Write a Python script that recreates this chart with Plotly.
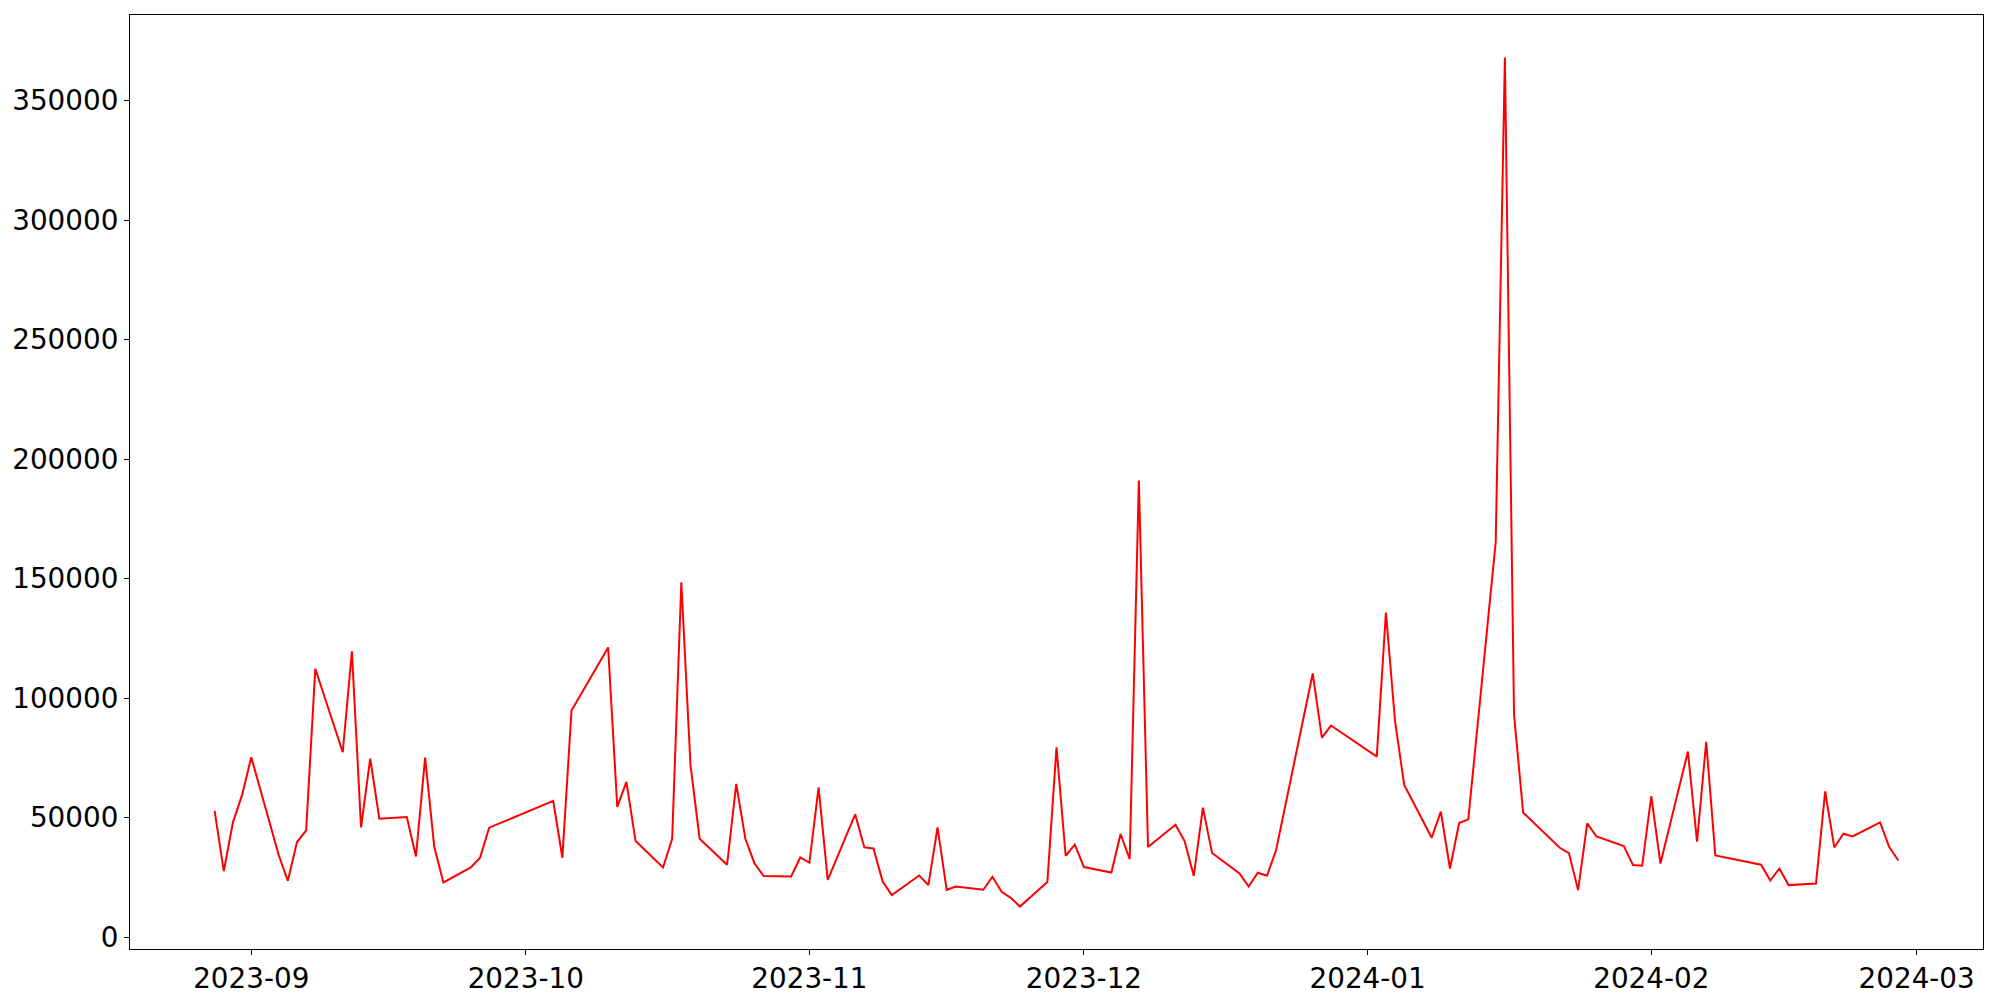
import plotly.graph_objects as go
import pandas as pd

dates = [
    "2023-08-28", "2023-08-29", "2023-08-30", "2023-08-31", "2023-09-01",
    "2023-09-04", "2023-09-05", "2023-09-06", "2023-09-07", "2023-09-08",
    "2023-09-11", "2023-09-12", "2023-09-13", "2023-09-14", "2023-09-15",
    "2023-09-18", "2023-09-19", "2023-09-20", "2023-09-21", "2023-09-22",
    "2023-09-25", "2023-09-26", "2023-09-27",
    "2023-10-04", "2023-10-05", "2023-10-06",
    "2023-10-10", "2023-10-11", "2023-10-12", "2023-10-13",
    "2023-10-16", "2023-10-17", "2023-10-18", "2023-10-19", "2023-10-20",
    "2023-10-23", "2023-10-24", "2023-10-25", "2023-10-26", "2023-10-27",
    "2023-10-30", "2023-10-31", "2023-11-01", "2023-11-02", "2023-11-03",
    "2023-11-06", "2023-11-07", "2023-11-08", "2023-11-09", "2023-11-10",
    "2023-11-13", "2023-11-14", "2023-11-15", "2023-11-16", "2023-11-17",
    "2023-11-20", "2023-11-21", "2023-11-22", "2023-11-23", "2023-11-24",
    "2023-11-27", "2023-11-28", "2023-11-29", "2023-11-30", "2023-12-01",
    "2023-12-04", "2023-12-05", "2023-12-06", "2023-12-07", "2023-12-08",
    "2023-12-11", "2023-12-12", "2023-12-13", "2023-12-14", "2023-12-15",
    "2023-12-18", "2023-12-19", "2023-12-20", "2023-12-21", "2023-12-22",
    "2023-12-26", "2023-12-27", "2023-12-28",
    "2024-01-02", "2024-01-03", "2024-01-04", "2024-01-05",
    "2024-01-08", "2024-01-09", "2024-01-10", "2024-01-11", "2024-01-12",
    "2024-01-15", "2024-01-16", "2024-01-17", "2024-01-18",
    "2024-01-22", "2024-01-23", "2024-01-24", "2024-01-25", "2024-01-26",
    "2024-01-29", "2024-01-30", "2024-01-31", "2024-02-01", "2024-02-02",
    "2024-02-05", "2024-02-06", "2024-02-07", "2024-02-08",
    "2024-02-13", "2024-02-14", "2024-02-15", "2024-02-16",
    "2024-02-19", "2024-02-20", "2024-02-21", "2024-02-22", "2024-02-23",
    "2024-02-26", "2024-02-27", "2024-02-28",
]

values = [
    52770, 27620, 48000, 59470, 75240,
    34320, 23550, 39770, 44640, 112270,
    77330, 119530, 45900, 74690, 49540,
    50240, 33740, 75100, 37800, 22840,
    29130, 33190, 45770,
    56960, 33190, 94800,
    121200, 54440, 64920, 40190,
    29130, 41150, 148450, 72040, 41150,
    30260, 64080, 41150, 30800, 25520,
    25360, 33320, 31100, 62660, 23970,
    51340, 37510, 37090, 23260, 17560,
    25780, 21750, 45900, 19780, 21170,
    19780, 25230, 18940, 16430, 12780,
    23010, 79420, 34030, 38640, 29300,
    27030, 43120, 32650, 191000, 37680,
    47020, 40190, 25650, 54150, 35160,
    26610, 21170, 26910, 25650, 36420,
    110300, 83480, 88510,
    75520, 135740, 90190, 63660,
    41570, 52470, 28710, 47730, 49240,
    165340, 368000, 93000, 52050,
    37380, 35160, 19650, 47570, 42120,
    38100, 30130, 29840, 59000, 30750,
    77620, 39900, 81680, 34160,
    30260, 23680, 28710, 21750,
    22420, 60980, 37510, 43250, 42120,
    47990, 37680, 32060,
]

y_ticks = [0, 50000, 100000, 150000, 200000, 250000, 300000, 350000]
x_tick_labels = ["2023-09", "2023-10", "2023-11", "2023-12", "2024-01", "2024-02", "2024-03"]
x_tick_vals = [s + "-01" for s in x_tick_labels]

x = pd.to_datetime(dates)
pad = pd.Timedelta(days=9.25)
x_range = [x.min() - pad, x.max() + pad]
span = max(values) - min(values)
y_range = [min(values) - 0.05 * span, max(values) + 0.05 * span]

fig = go.Figure()
fig.add_trace(go.Scatter(
    x=x, y=values, mode="lines",
    line=dict(color="red", width=2),
    showlegend=False,
))

font = dict(family="DejaVu Sans", size=27.8, color="black")
# page body has an 8px default margin; offset the figure margins accordingly
fig.update_layout(
    width=1992, height=992,
    margin=dict(l=122, r=17, t=7, b=51),
    plot_bgcolor="white", paper_bgcolor="white",
    font=font,
)
fig.update_xaxes(
    range=x_range, tickvals=x_tick_vals, ticktext=x_tick_labels,
    showgrid=False, zeroline=False,
    showline=True, mirror=True, linecolor="black", linewidth=1.1,
    ticks="outside", ticklen=5, tickwidth=1.1, tickcolor="black",
    tickfont=font, automargin=False,
)
fig.update_yaxes(
    range=y_range, tickvals=y_ticks, ticktext=[str(v) for v in y_ticks],
    showgrid=False, zeroline=False,
    showline=True, mirror=True, linecolor="black", linewidth=1.1,
    ticks="outside", ticklen=5, tickwidth=1.1, tickcolor="black",
    tickfont=font, automargin=False,
)

fig.write_html("out.html")
